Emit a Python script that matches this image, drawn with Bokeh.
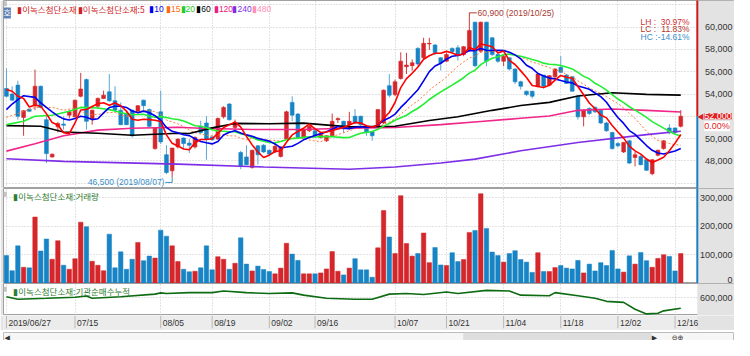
import pandas as pd
from bokeh.plotting import figure
from bokeh.models import Range1d, FixedTicker, Label, BoxAnnotation, ColumnDataSource
from bokeh.layouts import column
from bokeh.embed import file_html
from bokeh.resources import INLINE
from bokeh.core.properties import value

# ---------------- data ----------------
open_ = [54500, 54000, 54800, 51900, 52650, 52950, 54700, 51700, 48350, 51050,
         51300, 52100, 51950, 53800, 55300, 51750, 52900, 53600, 54200, 53400,
         52550, 52250, 52550, 52400, 53450, 52600, 49100, 52400, 48550, 47100,
         49250, 50050, 49600, 49250, 51100, 51400, 50150, 49950, 51950, 53100,
         51000, 48750, 48350, 47400, 49350, 49400, 48950, 48800, 48400, 49950,
         53250, 52200, 50100, 50700, 50700, 50100, 49800, 50250, 51700, 51550,
         51250, 52000, 52000, 50950, 50600, 51050, 51400, 54750, 53950, 55400,
         56450, 56550, 58100, 57250, 58500, 58400, 57250, 56950, 58100, 58150,
         57550, 57950, 60450, 57850, 60450, 59050, 57550, 56950, 57250, 56250,
         55100, 54250, 54250, 54700, 55700, 54800, 55550, 56400, 55700, 55550,
         53800, 51950, 52700, 52800, 52550, 51400, 50550, 49550, 48800, 49800,
         48300, 48400, 48100, 46850, 48500, 49100, 50950, 50950, 51100]
high = [56300, 54700, 55200, 52550, 52700, 56200, 54750, 52000, 48650, 51500,
        52000, 52600, 53500, 55900, 55400, 52600, 53700, 54300, 55800, 54700,
        53250, 52400, 52600, 53000, 53500, 52700, 51000, 54300, 49400, 49150,
        50000, 50100, 49950, 50200, 51600, 52000, 50300, 51900, 52900, 53200,
        51700, 48900, 49400, 49000, 49400, 49500, 49000, 49700, 49300, 52500,
        53800, 52300, 50900, 51200, 50750, 50600, 50300, 52250, 51900, 51600,
        52400, 52650, 52050, 51000, 50700, 52600, 54400, 55800, 55300, 57750,
        57700, 57100, 58200, 59050, 59050, 58500, 57300, 57700, 58200, 58400,
        58300, 60900, 60500, 60500, 60500, 59100, 57700, 57600, 57300, 56300,
        55200, 54300, 54300, 55900, 55700, 55700, 56300, 57400, 55800, 55600,
        53900, 52600, 52800, 52900, 52600, 51500, 50600, 49700, 49700, 49900,
        48800, 48500, 48200, 48150, 49000, 49850, 51300, 51000, 52550]
low = [53700, 53400, 51700, 50250, 52400, 52550, 52700, 47800, 48300, 50550,
       50800, 51800, 51900, 53700, 50800, 51250, 52700, 53550, 53300, 52400,
       51200, 51200, 50100, 52300, 52500, 51000, 49000, 49500, 46800, 46500,
       49100, 49100, 48700, 49100, 50400, 48100, 49800, 49900, 51800, 51600,
       50700, 47250, 47600, 47300, 47650, 48700, 48500, 48700, 48300, 49900,
       51550, 50000, 50000, 50600, 50200, 50000, 49700, 50200, 51400, 50500,
       50800, 51300, 51000, 50250, 49800, 51000, 51300, 53700, 53800, 55300,
       55800, 56100, 56500, 57100, 57950, 57500, 56100, 56900, 57700, 57000,
       57400, 57800, 56400, 57700, 56500, 57400, 56800, 56500, 56100, 54900,
       54400, 53800, 53600, 54600, 54500, 54700, 55400, 55900, 54900, 54200,
       51700, 51100, 52100, 52300, 51300, 50600, 49000, 49200, 48700, 47700,
       47500, 47600, 47100, 46700, 48400, 49000, 50400, 50400, 51000]
close = [53800, 53450, 52000, 52500, 52450, 54700, 52800, 48650, 48600, 51350,
         51200, 52400, 53450, 54450, 51550, 52550, 53600, 53900, 53400, 52550,
         51250, 51250, 50250, 52950, 52950, 51100, 50950, 49700, 46950, 49150,
         49950, 49550, 49400, 50100, 50550, 49950, 49900, 51800, 52800, 51700,
         51300, 47550, 47650, 48950, 48550, 48800, 48600, 49300, 49250, 52400,
         52100, 50100, 50800, 51100, 50250, 50500, 50250, 51550, 51800, 50950,
         51550, 51400, 51250, 50600, 50250, 52600, 54350, 53900, 55100, 56950,
         56600, 56800, 56700, 58550, 58550, 57700, 56800, 57550, 57800, 57550,
         58250, 59700, 56550, 60450, 56950, 57550, 56950, 57400, 56250, 55100,
         54700, 53950, 53800, 55800, 54700, 55650, 56250, 55950, 54950, 54250,
         51950, 52550, 52250, 52400, 51400, 50700, 49100, 49350, 49650, 47800,
         48550, 47650, 47150, 48100, 48950, 49800, 50550, 50550, 52000]
volume = [98000, 45000, 132000, 57000, 55000, 233000, 114000, 156000, 85000, 150000,
          64000, 50000, 87000, 215000, 199000, 78000, 64000, 45000, 173000, 55000,
          111000, 50000, 85000, 144000, 80000, 96000, 89000, 187000, 166000, 132000,
          77000, 50000, 41000, 43000, 55000, 132000, 48000, 94000, 85000, 50000,
          71000, 160000, 68000, 44000, 61000, 49000, 42000, 34000, 54000, 141000,
          103000, 81000, 34000, 34000, 34000, 37000, 51000, 112000, 43000, 30000,
          54000, 87000, 48000, 48000, 22000, 125000, 256000, 163000, 105000, 308000,
          140000, 96000, 105000, 177000, 73000, 126000, 65000, 63000, 108000, 77000,
          84000, 179000, 186000, 315000, 193000, 110000, 98000, 75000, 105000, 115000,
          84000, 75000, 39000, 108000, 42000, 42000, 56000, 63000, 54000, 51000,
          81000, 37000, 68000, 44000, 73000, 63000, 116000, 51000, 40000, 97000,
          68000, 109000, 80000, 57000, 88000, 101000, 95000, 44000, 105000]

# moving-average values read where the window reaches before the first bar
ma5_head_idx, ma5_head = [0, 1, 2, 3], [54400, 54250, 53800, 53600]
ma10_head_idx, ma10_head = [0, 1, 2, 3, 5, 6, 8], [52600, 53100, 53500, 53850, 53700, 53200, 52400]
ma15_head_idx, ma15_head = [0, 2, 5, 8, 10, 12, 13], [51900, 52250, 52800, 52800, 52550, 52750, 52500]
ma20_head_idx, ma20_head = [0, 3, 5, 8, 11, 13, 16, 18], [51250, 51550, 52000, 52100, 52450, 52800, 52750, 52600]
ma60_idx = [0, 6, 10, 16, 22, 30, 32, 36, 40, 46, 52, 60, 68, 74, 79, 85, 90, 95, 100, 106, 112, 118]
ma60 = [51160, 51100, 50590, 50480, 50300, 50480, 50450, 50960, 51360, 51330, 51390, 51050,
        51100, 51620, 51960, 52535, 52965, 53250, 53820, 54110, 53965, 53900]
ma120_idx = [0, 5, 10, 16, 22, 30, 34, 43, 51, 60, 68, 76, 83, 90, 95, 100, 106, 112, 118]
ma120 = [48870, 49530, 50250, 50760, 50930, 51020, 50930, 50820, 50820, 50930, 50990,
         51250, 51530, 51820, 52020, 52535, 52650, 52535, 52390]
ma240_idx = [0, 10, 30, 45, 60, 68, 76, 82, 90, 100, 112, 118]
ma240 = [48190, 47950, 47700, 47450, 47250, 47450, 47800, 48150, 48900, 49650, 50350, 50650]

inst_idx = [0, 2, 7, 12, 14, 15, 20, 26, 27, 28, 32, 36, 38, 42, 46, 50, 52, 56, 61, 64,
            67, 70, 73, 77, 79, 84, 88, 90, 95, 96, 100, 103, 105, 108, 110, 112, 114, 115, 118]
inst = [608000, 586000, 594000, 603000, 614000, 594000, 608000, 631000, 642000, 636000,
        644000, 644000, 658000, 644000, 636000, 642000, 622000, 594000, 586000, 586000,
        631000, 636000, 628000, 650000, 636000, 664000, 658000, 622000, 617000, 644000,
        617000, 594000, 567000, 558000, 497000, 456000, 461000, 483000, 506000]

tick_idx = [0, 12, 27, 36, 46, 54, 68, 77, 87, 97, 107, 117]
tick_lab = ["2019/06/27", "07/15", "08/05", "08/19", "09/02", "09/16",
            "10/07", "10/21", "11/04", "11/18", "12/02", "12/16"]
price_ticks = [48000, 50000, 52000, 54000, 56000, 58000, 60000]
price_grid = [46000, 48000, 50000, 52000, 54000, 56000, 58000, 60000, 62000]
vol_ticks = [0, 100000, 200000, 300000]
inst_ticks = [600000]
hi_date, lo_date = "2019/10/25", "2019/08/07"
name = "이녹스첨단소재"
ma_names = ["10", "15", "20", "60", "120", "240", "480"]

# ---------------- layout constants ----------------
W, LB = 734, 3
FW = W - LB
H_MAIN, H_VOL, H_IND, H_DATE, H_SCR = 188, 95, 32, 15, 10
RED, BLUE = "#d5262b", "#1784c5"
STRIP = "#e3e3e3"
NUMFONT = "Liberation Sans"
KFONT = "Noto Sans CJK KR"

N = len(close)
idx = list(range(N))
xr = Range1d(-0.514, 127.40)
x_strip = 120.89          # where the price-scale strip starts (bar units)

def fx(rx):
    return (rx - 3) * FW / 747.0

def base_fig(h, yr):
    p = figure(width=W, height=h, x_range=xr, y_range=yr, output_backend="svg",
               toolbar_location=None, tools="", x_axis_location=None, y_axis_location=None,
               min_border_left=LB, min_border_right=0, min_border_top=0, min_border_bottom=0,
               background_fill_color="white", border_fill_color=STRIP,
               outline_line_color="#a0a0a0")
    p.xgrid.ticker = FixedTicker(ticks=tick_idx)
    for g in (p.xgrid, p.ygrid):
        g.grid_line_color = "#c6c6c6"
        g.grid_line_dash = "1 2"
    p.add_layout(BoxAnnotation(left=x_strip, fill_color=STRIP, fill_alpha=1, line_color=None))
    return p

def scale_labels(p, ticks, yoff=None):
    s = ColumnDataSource(dict(x=[xr.end] * len(ticks), y=ticks, t=[f"{v:,}" for v in ticks],
                              yo=yoff if yoff else [0] * len(ticks)))
    p.text("x", "y", text="t", source=s, x_offset=-2, y_offset="yo", text_align="right",
           text_baseline="middle", text_font=value(NUMFONT), text_font_size="9px",
           text_color="#333333", level="overlay")

def title_label(p, txt, x, y, color, size="8.5px", font=KFONT, align="left"):
    p.add_layout(Label(x=x, y=y, x_units="screen", y_units="screen", text=txt,
                       text_color=color, text_font=font, text_font_size=size,
                       text_baseline="middle", text_align=align))

# ---------------- main price panel ----------------
yr_main = Range1d(45515, 62400)
pm = base_fig(H_MAIN, yr_main)
pm.ygrid.ticker = FixedTicker(ticks=price_grid)
last = close[-1]
scale_labels(pm, [t for t in price_ticks if abs(t - last) > 700])

up = [c >= o for o, c in zip(open_, close)]
src = ColumnDataSource(dict(
    i=idx, h=high, l=low,
    top=[max(o, c) for o, c in zip(open_, close)],
    bot=[min(o, c) for o, c in zip(open_, close)],
    col=[RED if u else BLUE for u in up],
    wick=["#cc3b3b" if u else "#5aa6d6" for u in up],
))
pm.segment("i", "h", "i", "l", source=src, line_color="wick", line_width=1)
pm.vbar("i", 0.66, "top", "bot", source=src, fill_color="col", line_color="col", line_width=0.6)

cs = pd.Series(close, dtype=float)

def ma_xy(n, hidx, hval):
    r = cs.rolling(n).mean()
    return list(hidx) + idx[n - 1:], list(hval) + list(r.iloc[n - 1:])

x15, y15 = ma_xy(15, ma15_head_idx, ma15_head)
pm.line(x15, y15, line_color="#ff7b3a", line_width=1, line_dash="2 2")
pm.line(ma240_idx, ma240, line_color="#7d2ee6", line_width=1.6)
pm.line(ma120_idx, ma120, line_color="#f0268a", line_width=1.6)
pm.line(ma60_idx, ma60, line_color="#000000", line_width=1.6)
x20, y20 = ma_xy(20, ma20_head_idx, ma20_head)
pm.line(x20, y20, line_color="#22ee33", line_width=1.6)
x10, y10 = ma_xy(10, ma10_head_idx, ma10_head)
pm.line(x10, y10, line_color="#0000ee", line_width=1.6)
x5, y5 = ma_xy(5, ma5_head_idx, ma5_head)
pm.line(x5, y5, line_color="#ff0000", line_width=1.6)

# high / low annotations
hmax = max(high); imax = high.index(hmax)
lmin = min(low); imin = low.index(lmin)
pm.line([imax, imax, imax + 1.3], [hmax, hmax + 390, hmax + 390], line_color="#b03a30", line_width=1)
pm.text([imax + 1.45], [hmax + 390], text=[f"{hmax:,} ({hi_date})"], text_color="#a83a32",
        text_font=value(NUMFONT), text_font_size="8.5px", text_baseline="middle", text_align="left")
pm.line([imin, imin, imin - 1.2], [lmin, lmin - 440, lmin - 440], line_color="#3a8ec8", line_width=1)
pm.text([imin - 1.35], [lmin - 440], text=[f"{lmin:,} ({lo_date})"], text_color="#3a8ec8",
        text_font=value(NUMFONT), text_font_size="8.5px", text_baseline="middle", text_align="right")

# strip edge: red above the last price, blue below
pm.segment(x0=[x_strip, x_strip], y0=[last, last], x1=[x_strip, x_strip], y1=[yr_main.end, yr_main.start],
           line_color=["#d01818", "#1c7fc4"], line_width=2, level="overlay")
pm.add_layout(Label(x=x_strip, y=last, text=f"{last:,}", x_offset=7, text_baseline="middle",
                    text_color="white", background_fill_color="#e01e1e", text_font=NUMFONT,
                    text_font_size="9px"))
pm.add_layout(Label(x=x_strip, y=last, text="0.00%", x_offset=7, y_offset=-10, text_baseline="middle",
                    text_color="#e01e1e", background_fill_color="white", text_font=NUMFONT,
                    text_font_size="9px"))
pm.add_layout(Label(x=x_strip, y=last, text="◀", x_offset=0, text_baseline="middle",
                    text_color="#e01e1e", text_font="DejaVu Sans", text_font_size="8px"))

# legend row
def fy_main(ry):
    return H_MAIN - ry * H_MAIN / 197.0

ty = fy_main(9)
pm.add_layout(Label(x=fx(3), y=fy_main(3.5), x_units="screen", y_units="screen", text="   ",
                    background_fill_color="#c2c2c2", text_font_size="4px", text_baseline="middle"))
pm.add_layout(Label(x=fx(3), y=fy_main(13), x_units="screen", y_units="screen", text="호", text_color="white",
                    background_fill_color="#5f80b4", text_font=KFONT, text_font_size="8px",
                    text_baseline="middle"))
title_label(pm, "▮" + name, fx(17), ty, "#d02020")
title_label(pm, "▮" + name + ":5", fx(79), ty, "#d02020")
ma_cols = ["#0000ee", "#ff6a10", "#22cc22", "#000000", "#e8207f", "#7d2ee6", "#ff8fb3"]
ma_x = [152, 169, 184, 200, 218, 237, 257]
for nm, c, rx in zip(ma_names, ma_cols, ma_x):
    title_label(pm, "▮" + nm, fx(rx), ty, c, font=NUMFONT)

# LH / LC / HC
lh = (hmax - lmin) / lmin * 100
lc = (last - lmin) / lmin * 100
hc = (last - hmax) / hmax * 100
for lab, v, c, ry in [("LH :", lh, "#d03030", 22.5), ("LC :", lc, "#b03428", 30), ("HC :", hc, "#3a8ec8", 38)]:
    title_label(pm, lab, fx(654), fy_main(ry), c, size="8.5px", font=NUMFONT)
    title_label(pm, f"{v:.2f}%", fx(704), fy_main(ry), c, size="8.5px", font=NUMFONT, align="right")

# ---------------- volume panel ----------------
yr_vol = Range1d(0, 333000)
pv = base_fig(H_VOL, yr_vol)
pv.ygrid.ticker = FixedTicker(ticks=vol_ticks[1:])
scale_labels(pv, vol_ticks, yoff=[-4, 0, 0, 0])
vsrc = ColumnDataSource(dict(i=idx, v=volume, col=[RED if u else BLUE for u in up]))
pv.vbar("i", 0.78, "v", 0, source=vsrc, fill_color="col", line_color="col", line_width=0.5)
pv.segment(x0=[x_strip], y0=[yr_vol.start], x1=[x_strip], y1=[yr_vol.end],
           line_color="#1c7fc4", line_width=2, level="overlay")
fy_v = lambda ry: H_VOL - (ry - 197) * H_VOL / 99.0
pv.add_layout(Label(x=fx(3), y=fy_v(203), x_units="screen", y_units="screen", text="   ",
                    background_fill_color="#c4c4c4", text_font_size="4px", text_baseline="middle"))
title_label(pv, "▮" + name + ":거래량", fx(13), fy_v(204.5), "#2f7d32")

# ---------------- institutional cumulative panel ----------------
pi = base_fig(H_IND, Range1d(441700, 725000))
pi.ygrid.ticker = FixedTicker(ticks=inst_ticks)
scale_labels(pi, inst_ticks)
pi.line(inst_idx, inst, line_color="#0d6b12", line_width=1.6)
fy_i = lambda ry: H_IND - (ry - 296) * H_IND / 34.0
pi.add_layout(Label(x=fx(3), y=fy_i(302), x_units="screen", y_units="screen", text="   ",
                    background_fill_color="#c4c4c4", text_font_size="4px", text_baseline="middle"))
title_label(pi, "▮" + name + ":기관순매수누적", fx(13), fy_i(303.5), "#2f7d32")

# ---------------- date band ----------------
pd_ = figure(width=W, height=H_DATE, x_range=xr, y_range=Range1d(0, 1), output_backend="svg",
             toolbar_location=None, tools="", x_axis_location=None, y_axis_location=None,
             min_border_left=LB, min_border_right=0, min_border_top=0, min_border_bottom=0,
             background_fill_color="#ececec", border_fill_color=STRIP, outline_line_color=None)
pd_.xgrid.visible = False
pd_.ygrid.visible = False
pd_.add_layout(BoxAnnotation(left=x_strip, fill_color=STRIP, fill_alpha=1, line_color=None))
pd_.segment(x0=tick_idx, y0=[1] * len(tick_idx), x1=tick_idx, y1=[0.15] * len(tick_idx),
            line_color="#b8b8b8", line_width=1)
pd_.text(x=tick_idx, y=0.5, text=tick_lab, x_offset=2, text_font=value(NUMFONT),
         text_font_size="8.5px", text_color="#333333", text_baseline="middle", text_align="left",
         level="overlay")

# ---------------- scroll bar ----------------
ps = figure(width=W, height=H_SCR, x_range=Range1d(0, W), y_range=Range1d(0, H_SCR), output_backend="svg",
            toolbar_location=None, tools="", x_axis_location=None, y_axis_location=None,
            min_border=0, background_fill_color="#f6f6f6", outline_line_color="#bdbdbd")
ps.xgrid.visible = False
ps.ygrid.visible = False
ps.add_layout(BoxAnnotation(left=462, right=650, fill_color="#dedede", fill_alpha=1, line_color="#c8c8c8"))
for txt, xx in [("◀", 1), ("▶", 651), ("⊖⊕", 671)]:
    ps.add_layout(Label(x=xx, y=H_SCR / 2, text=txt, text_font="DejaVu Sans", text_font_size="7px",
                        text_color="#333333", text_baseline="middle"))

layout = column(pm, pv, pi, pd_, ps, spacing=0)
open("out.html", "w").write(file_html(layout, INLINE))
